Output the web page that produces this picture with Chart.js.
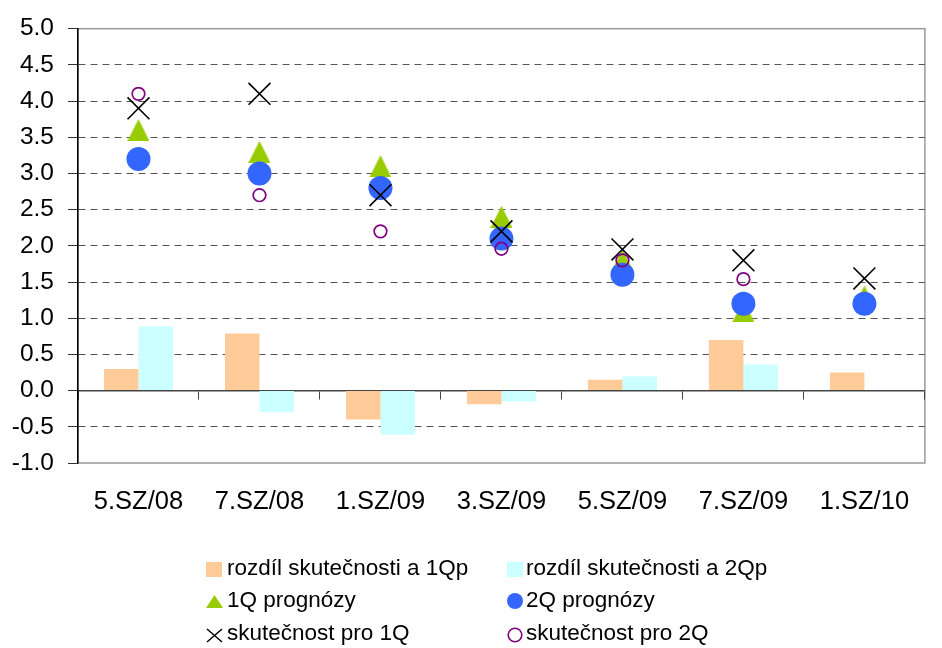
<!DOCTYPE html>
<html>
<head>
<meta charset="utf-8">
<script src="https://cdn.jsdelivr.net/npm/chart.js@4"></script>
<style>
  html, body { margin: 0; padding: 0; background: #fff; }
  #wrap { position: relative; width: 942px; height: 648px; }
  #legend { position: absolute; left: 0; top: 0; width: 942px; height: 648px; pointer-events: none;
            font-family: "Liberation Sans", Arial, sans-serif; font-size: 22.5px; color: #000; }
  .mk { position: absolute; line-height: 0; }
  .mk svg { display: block; }
  .tx { position: absolute; line-height: 24px; white-space: nowrap; }
</style>
</head>
<body>
<div id="wrap">
  <canvas id="chart" width="942" height="648"></canvas>
  <div id="legend"></div>
</div>
<script>
const labels = ['5.SZ/08', '7.SZ/08', '1.SZ/09', '3.SZ/09', '5.SZ/09', '7.SZ/09', '1.SZ/10']
const diff1Q = [0.30, 0.79, -0.40, -0.19, 0.15, 0.70, 0.25]
const diff2Q = [0.89, -0.30, -0.61, -0.15, 0.20, 0.36, null]
const progn1Q = [3.6, 3.3, 3.1, 2.4, 1.8, 1.1, 1.3]
const progn2Q = [3.2, 3.0, 2.8, 2.1, 1.6, 1.2, 1.2]
const actual1Q = [3.9, 4.1, 2.7, 2.2, 1.95, 1.8, 1.55]
const actual2Q = [4.1, 2.7, 2.2, 1.96, 1.8, 1.54, null]
const seriesNames = ['rozdíl skutečnosti a 1Qp', 'rozdíl skutečnosti a 2Qp', '1Q prognózy',
  '2Q prognózy', 'skutečnost pro 1Q', 'skutečnost pro 2Q']

const FONT = '"Liberation Sans", Arial, sans-serif'

// triangle marker centred on its box (like Excel), not on its centroid
function triangleImage(w, h, color) {
  const c = document.createElement('canvas')
  c.width = w
  c.height = h
  const g = c.getContext('2d')
  g.fillStyle = color
  g.beginPath()
  g.moveTo(w / 2, 0)
  g.lineTo(w, h)
  g.lineTo(0, h)
  g.closePath()
  g.fill()
  return c
}

const plotFrame = {
  id: 'plotFrame',
  beforeDraw(chart) {
    const {ctx, chartArea: a} = chart
    ctx.save()
    ctx.strokeStyle = '#999'
    ctx.lineWidth = 1.5
    ctx.strokeRect(a.left, a.top, a.right - a.left, a.bottom - a.top)
    ctx.restore()
  }
}

const pointSet = (label, data, extra) => Object.assign({
  type: 'line', label, data, showLine: false, xAxisID: 'x', yAxisID: 'y'
}, extra)

new Chart('chart', {
  type: 'bar',
  data: {
    labels: labels,
    datasets: [
      {label: seriesNames[0], data: diff1Q, backgroundColor: '#FFCC99', order: 5,
        categoryPercentage: 0.57, barPercentage: 1},
      {label: seriesNames[1], data: diff2Q, backgroundColor: '#CCFFFF', order: 6,
        categoryPercentage: 0.57, barPercentage: 1},
      pointSet(seriesNames[2], progn1Q, {order: 4, pointStyle: triangleImage(22, 22, '#99CC00'),
        pointRadius: 11, pointHoverRadius: 11}),
      pointSet(seriesNames[3], progn2Q, {order: 3, pointStyle: 'circle', pointRadius: 12,
        pointHoverRadius: 12, pointBackgroundColor: '#3366FF', pointBorderWidth: 0}),
      pointSet(seriesNames[4], actual1Q, {order: 2, pointStyle: 'crossRot', pointRadius: 15.5,
        pointHoverRadius: 15.5, pointBorderColor: '#000', pointBorderWidth: 1.6}),
      pointSet(seriesNames[5], actual2Q, {order: 1, pointStyle: 'circle', pointRadius: 6.3,
        pointHoverRadius: 6.3, pointBackgroundColor: 'rgba(0,0,0,0)', pointBorderColor: '#800080',
        pointBorderWidth: 1.7})
    ]
  },
  options: {
    responsive: false,
    animation: false,
    events: [],
    layout: {padding: {top: 24, right: 1, bottom: 0, left: 0}},
    plugins: {legend: {display: false}, tooltip: {enabled: false}},
    scales: {
      x: {
        type: 'category',
        position: 'bottom',
        offset: true,
        grid: {display: false},
        border: {display: false},
        ticks: {color: '#000', font: {family: FONT, size: 25.5}, padding: 16, maxRotation: 0},
        afterFit: scale => { scale.height = 185 }
      },
      x2: {
        type: 'category',
        axis: 'x',
        position: {y: 0},
        offset: true,
        grid: {offset: true, drawOnChartArea: false, drawTicks: true, tickLength: 8, color: '#444'},
        border: {color: '#444', width: 1.5},
        ticks: {display: false}
      },
      y: {
        min: -1,
        max: 5,
        ticks: {stepSize: 0.5, color: '#000', font: {family: FONT, size: 24.5}, padding: 14,
          callback: v => v.toFixed(1)},
        grid: {
          tickLength: 10,
          tickColor: '#333',
          color: ctx => (ctx.tick && [5, 0, -1].includes(ctx.tick.value)) ? 'rgba(0,0,0,0)' : '#555'
        },
        border: {color: '#000', width: 1.5, dash: [7, 5]},
        afterFit: scale => { scale.width = 78 }
      }
    }
  },
  plugins: [plotFrame]
})

// legend in two columns, like the original
const legendItems = [
  {col: 0, svg: '<svg width="16" height="15"><rect width="16" height="15" fill="#FFCC99"/></svg>', my: 562},
  {col: 1, svg: '<svg width="16" height="15"><rect width="16" height="15" fill="#CCFFFF"/></svg>', my: 562},
  {col: 0, svg: '<svg width="17" height="13"><polygon points="8.5,0 17,13 0,13" fill="#99CC00"/></svg>', my: 595},
  {col: 1, svg: '<svg width="16" height="16"><circle cx="8" cy="8" r="8" fill="#3366FF"/></svg>', my: 593},
  {col: 0, svg: '<svg width="17" height="15"><path d="M1 1L16 14M16 1L1 14" stroke="#000" stroke-width="1.5"/></svg>', my: 628},
  {col: 1, svg: '<svg width="16" height="16"><circle cx="8" cy="8" r="6.8" fill="none" stroke="#800080" stroke-width="1.6"/></svg>', my: 627}
]
const colMarkX = [206, 507]
const colTextX = [227, 526]
const rowTop = [556, 588, 621]
const legend = document.getElementById('legend')
legendItems.forEach((item, i) => {
  const mk = document.createElement('div')
  mk.className = 'mk'
  mk.style.left = colMarkX[item.col] + 'px'
  mk.style.top = item.my + 'px'
  mk.innerHTML = item.svg
  legend.appendChild(mk)
  const tx = document.createElement('div')
  tx.className = 'tx'
  tx.style.left = colTextX[item.col] + 'px'
  tx.style.top = rowTop[Math.floor(i / 2)] + 'px'
  tx.textContent = seriesNames[i]
  legend.appendChild(tx)
})
</script>
</body>
</html>
